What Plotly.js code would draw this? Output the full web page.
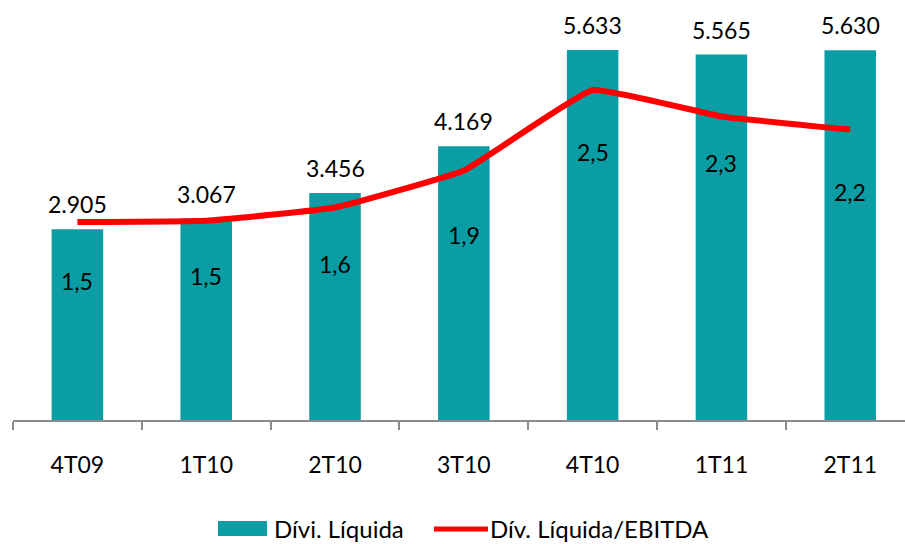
<!DOCTYPE html>
<html>
<head>
<meta charset="utf-8">
<script src="https://cdn.plot.ly/plotly-3.0.1.min.js"></script>
<style>html,body{margin:0;padding:0;background:#fff;}#chart{width:905px;height:544px;}</style>
</head>
<body>
<div id="chart"></div>
<script>
const categories = ['4T09', '1T10', '2T10', '3T10', '4T10', '1T11', '2T11'];
const divLiquida = [2905, 3067, 3456, 4169, 5633, 5565, 5630];
const divEbitda = [1.5, 1.51, 1.61, 1.89, 2.5, 2.3, 2.2];
const seriesNames = ['Dívi. Líquida', 'Dív. Líquida/EBITDA'];

const TEAL = '#0A9DA4';
const RED = '#FF0000';
const FONT = 'Lato, "Open Sans", sans-serif';

// layout geometry (pixels)
const W = 905, H = 544, ML = 13, MR = 0, MT = 26, MB = 124;
const plotW = W - ML - MR, plotH = H - MT - MB;
const px2x = p => (p - ML) / plotW;
const py2y = p => (H - MB - p) / plotH;

// label offsets (style) for ratio labels below the line
const ratioShift = [-59, -55, -57, -64, -62, -47, -62];

function fmtThousands(v) {
  return String(v).replace(/\B(?=(\d{3})+(?!\d))/g, '.');
}
function fmtRatio(v) {
  return v.toFixed(1).replace('.', ',');
}

const traces = [
  {
    type: 'bar', x: categories, y: divLiquida, name: seriesNames[0],
    marker: {color: TEAL}, width: 0.4, yaxis: 'y', hoverinfo: 'skip'
  },
  {
    type: 'scatter', mode: 'lines', x: categories, y: divEbitda, name: seriesNames[1],
    line: {color: RED, width: 6, shape: 'spline', smoothing: 0.3}, yaxis: 'y2', hoverinfo: 'skip'
  }
];

const annotations = [];
categories.forEach((c, i) => {
  annotations.push({
    x: c, y: divLiquida[i], xref: 'x', yref: 'y', text: fmtThousands(divLiquida[i]),
    showarrow: false, yanchor: 'middle', yshift: 25,
    font: {family: FONT, size: 23, color: '#000'}
  });
  annotations.push({
    x: c, y: divEbitda[i], xref: 'x', yref: 'y2', text: fmtRatio(divEbitda[i]),
    showarrow: false, yanchor: 'middle', yshift: ratioShift[i],
    font: {family: FONT, size: 23, color: '#000'}
  });
});

// custom legend
const LEG_Y = 528;
annotations.push({
  x: px2x(273), y: py2y(LEG_Y), xref: 'paper', yref: 'paper', text: seriesNames[0],
  showarrow: false, xanchor: 'left', yanchor: 'middle', borderpad: 0,
  font: {family: FONT, size: 24, color: '#000'}
});
annotations.push({
  x: px2x(489), y: py2y(LEG_Y), xref: 'paper', yref: 'paper', text: seriesNames[1],
  showarrow: false, xanchor: 'left', yanchor: 'middle', borderpad: 0,
  font: {family: FONT, size: 24, color: '#000'}
});

const shapes = [
  {type: 'rect', xref: 'paper', yref: 'paper', x0: px2x(218), x1: px2x(267), y0: py2y(LEG_Y + 8), y1: py2y(LEG_Y - 7),
   fillcolor: TEAL, line: {width: 0}},
  {type: 'line', xref: 'paper', yref: 'paper', x0: px2x(434), x1: px2x(488), y0: py2y(LEG_Y + 1), y1: py2y(LEG_Y + 1),
   line: {color: RED, width: 5}}
];

const layout = {
  width: W, height: H,
  margin: {l: ML, r: MR, t: MT, b: MB},
  paper_bgcolor: '#fff', plot_bgcolor: '#fff',
  showlegend: false,
  font: {family: FONT, size: 23, color: '#000'},
  xaxis: {
    type: 'category', range: [-0.5, 6.425],
    showline: true, linecolor: '#8c8c8c', linewidth: 2,
    ticks: 'outside', tickson: 'boundaries', ticklen: 8, tickwidth: 2, tickcolor: '#8c8c8c',
    ticklabelstandoff: 23,
    tickfont: {family: FONT, size: 23, color: '#000'},
    showgrid: false, zeroline: false, fixedrange: true
  },
  yaxis: {range: [0, 6000], visible: false, showgrid: false, zeroline: false},
  yaxis2: {range: [0, 2.985], overlaying: 'y', side: 'right', visible: false, showgrid: false, zeroline: false},
  annotations: annotations,
  shapes: shapes
};

Plotly.newPlot('chart', traces, layout, {displayModeBar: false, staticPlot: true});
</script>
</body>
</html>
